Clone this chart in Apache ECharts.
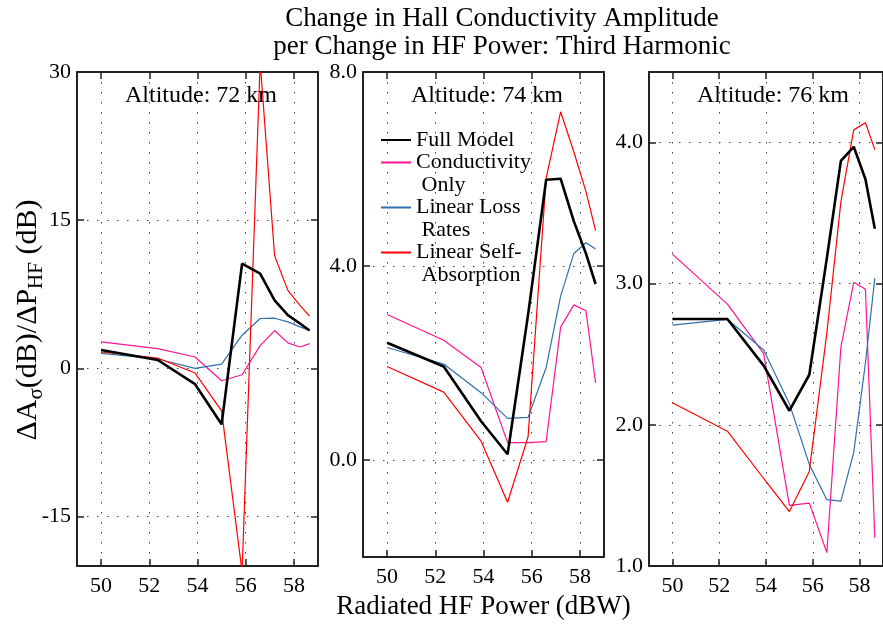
<!DOCTYPE html>
<html><head><meta charset="utf-8">
<script src="https://cdn.jsdelivr.net/npm/echarts@6/dist/echarts.min.js"></script>
<style>html,body{margin:0;padding:0;background:#fff}#c{width:883px;height:625px}</style>
</head><body><div id="c"></div>
<script>
// ---- data ----
const xPower = [50.0, 52.35, 53.9, 55.0, 55.85, 56.6, 57.2, 57.75, 58.25, 58.65];
const altitudes = ['Altitude: 72 km', 'Altitude: 74 km', 'Altitude: 76 km'];
const seriesNames = ['Full Model', 'Conductivity Only', 'Linear Loss Rates', 'Linear Self-Absorption'];
// 72 km
const full72 = [1.86, 0.85, -1.6, -5.66, 10.6, 9.6, 6.88, 5.39, 4.55, 3.83];
const cond72 = [2.68, 2.0, 1.15, -1.25, -0.64, 2.3, 3.83, 2.58, 2.17, 2.51];
const loss72 = [1.53, 0.95, 0.0, 0.44, 3.36, 5.05, 5.08, 4.71, 4.2, 3.83];
const self72 = [1.66, 1.05, -0.47, -4.3, -20.6, 31.0, 11.39, 7.9, 6.37, 5.29];
// 74 km
const full74 = [2.42, 1.93, 0.80, 0.12, 3.0, 5.78, 5.80, 4.92, 4.26, 3.63];
const cond74 = [3.0, 2.47, 1.91, 0.36, 0.36, 0.38, 2.74, 3.2, 3.08, 1.59];
const loss74 = [2.32, 1.98, 1.39, 0.86, 0.88, 1.91, 3.38, 4.26, 4.48, 4.35];
const self74 = [1.93, 1.40, 0.39, -0.87, 0.48, 5.81, 7.18, 6.35, 5.54, 4.73];
// 76 km
const full76 = [2.75, 2.75, 2.42, 2.10, 2.355, 3.18, 3.87, 3.97, 3.74, 3.39];
const cond76 = [3.21, 2.855, 2.505, 1.43, 1.446, 1.095, 2.55, 3.01, 2.96, 1.20];
const loss76 = [2.706, 2.748, 2.53, 2.15, 1.72, 1.47, 1.46, 1.805, 2.44, 3.04];
const self76 = [2.156, 1.955, 1.62, 1.386, 1.67, 2.65, 3.58, 4.09, 4.14, 3.95];
// axes / ticks
const xTickValues = [50, 52, 54, 56, 58];
const xRange = [49, 59];
const yRanges = [[-20, 30], [-2, 8], [1, 4.5]];
const yTickValues = [[-15, 0, 15, 30], [0, 4, 8], [1, 2, 3, 4]];
const yTickDecimals = [0, 1, 1];

// ---- chart ----
const FONT = '"Liberation Serif", "Times New Roman", serif';
const panelData = [
  [full72, cond72, loss72, self72],
  [full74, cond74, loss74, self74],
  [full76, cond76, loss76, self76]
];
const colors = ['#000000', '#ff1493', '#2f6fad', '#ff0000'];
const widths = [2.6, 1.2, 1.2, 1.2];
const drawOrder = [1, 2, 3, 0];
const gridLefts = [77, 363, 649];
const frameColor = '#222';

const grids = [], xAxes = [], yAxes = [], series = [], titles = [];
titles.push({
  text: 'Change in Hall Conductivity Amplitude\nper Change in HF Power: Third Harmonic',
  left: 497, top: 0, textAlign: 'center',
  textStyle: { fontFamily: FONT, fontSize: 27, fontWeight: 'normal', color: '#000', lineHeight: 28 }
});
for (let p = 0; p < 3; p++) {
  grids.push({ left: gridLefts[p], top: 72, width: 241, height: 494, containLabel: false });
  titles.push({
    text: altitudes[p], left: gridLefts[p] + 119, top: 79, textAlign: 'center',
    textStyle: { fontFamily: FONT, fontSize: 24, fontWeight: 'normal', color: '#000' }
  });
}
// bottom x axes (0..2), top x axes (3..5)
for (let p = 0; p < 3; p++) {
  xAxes.push({
    type: 'value', gridIndex: p, min: xRange[0], max: xRange[1], position: 'bottom',
    axisLine: { show: true, onZero: false, lineStyle: { color: frameColor, width: 2 } },
    axisTick: { show: true, inside: true, length: 7, customValues: xTickValues, lineStyle: { color: frameColor, width: 1.5 } },
    axisLabel: { show: true, customValues: xTickValues, margin: 9, fontFamily: FONT, fontSize: 22, color: '#000' },
    splitLine: { show: true, lineStyle: { color: '#444', width: 1, type: [1.5, 8.5] } },
    name: p === 1 ? 'Radiated HF Power (dBW)' : '',
    nameLocation: 'middle', nameGap: 29,
    nameTextStyle: { fontFamily: FONT, fontSize: 27, color: '#000' }
  });
}
for (let p = 0; p < 3; p++) {
  xAxes.push({
    type: 'value', gridIndex: p, min: xRange[0], max: xRange[1], position: 'top',
    axisLine: { show: true, onZero: false, lineStyle: { color: frameColor, width: 2 } },
    axisTick: { show: true, inside: true, length: 7, customValues: xTickValues, lineStyle: { color: frameColor, width: 1.5 } },
    axisLabel: { show: false }, splitLine: { show: false }
  });
}
for (let p = 0; p < 3; p++) {
  yAxes.push({
    type: 'value', gridIndex: p, min: yRanges[p][0], max: yRanges[p][1], position: 'left',
    axisLine: { show: true, onZero: false, lineStyle: { color: frameColor, width: 2 } },
    axisTick: { show: true, inside: true, length: 7, customValues: yTickValues[p], lineStyle: { color: frameColor, width: 1.5 } },
    axisLabel: {
      show: true, customValues: yTickValues[p], margin: 6, fontFamily: FONT, fontSize: 22, color: '#000',
      formatter: (v) => Number(v).toFixed(yTickDecimals[p])
    },
    splitLine: { show: true, lineStyle: { color: '#444', width: 1, type: [1.5, 8.5] } }
  });
}
for (let p = 0; p < 3; p++) {
  yAxes.push({
    type: 'value', gridIndex: p, min: yRanges[p][0], max: yRanges[p][1], position: 'right',
    axisLine: { show: true, onZero: false, lineStyle: { color: frameColor, width: 2 } },
    axisTick: { show: true, inside: true, length: 7, customValues: yTickValues[p], lineStyle: { color: frameColor, width: 1.5 } },
    axisLabel: { show: false }, splitLine: { show: false }
  });
}
for (let p = 0; p < 3; p++) {
  for (const s of drawOrder) {
    series.push({
      type: 'line', name: seriesNames[s], xAxisIndex: p, yAxisIndex: p,
      data: xPower.map((x, k) => [x, panelData[p][s][k]]),
      showSymbol: false, symbol: 'none', clip: true, animation: false,
      lineStyle: { color: colors[s], width: widths[s] },
      itemStyle: { color: colors[s] },
      z: s === 0 ? 5 : 3
    });
  }
}
const legendLabel = {
  'Full Model': 'Full Model',
  'Conductivity Only': '\nConductivity\n Only',
  'Linear Loss Rates': '\nLinear Loss\n Rates',
  'Linear Self-Absorption': '\nLinear Self-\n Absorption'
};
const chart = echarts.init(document.getElementById('c'), null, { renderer: 'canvas' });
chart.setOption({
  backgroundColor: '#fff',
  animation: false,
  title: titles,
  grid: grids,
  xAxis: xAxes,
  yAxis: yAxes,
  legend: {
    orient: 'vertical', left: 380, top: 128.75, padding: 0,
    itemWidth: 30, itemHeight: 14, itemGap: -22.5,
    selectedMode: false,
    itemStyle: { opacity: 0 },
    data: seriesNames,
    formatter: (n) => legendLabel[n],
    textStyle: { fontFamily: FONT, fontSize: 22, lineHeight: 22.5, color: '#000' }
  },
  graphic: [{
    type: 'text', x: 28, y: 320, rotation: Math.PI / 2,
    style: {
      text: '{n|ΔA}{s|σ}{n|(dB)/ΔP}{s|HF}{n| (dB)}',
      align: 'center', verticalAlign: 'middle',
      rich: {
        n: { fontFamily: FONT, fontSize: 30, lineHeight: 38, fill: '#000', verticalAlign: 'middle' },
        s: { fontFamily: FONT, fontSize: 21, lineHeight: 38, fill: '#000', verticalAlign: 'bottom' }
      }
    }
  }],
  series: series
});
</script>
</body></html>
